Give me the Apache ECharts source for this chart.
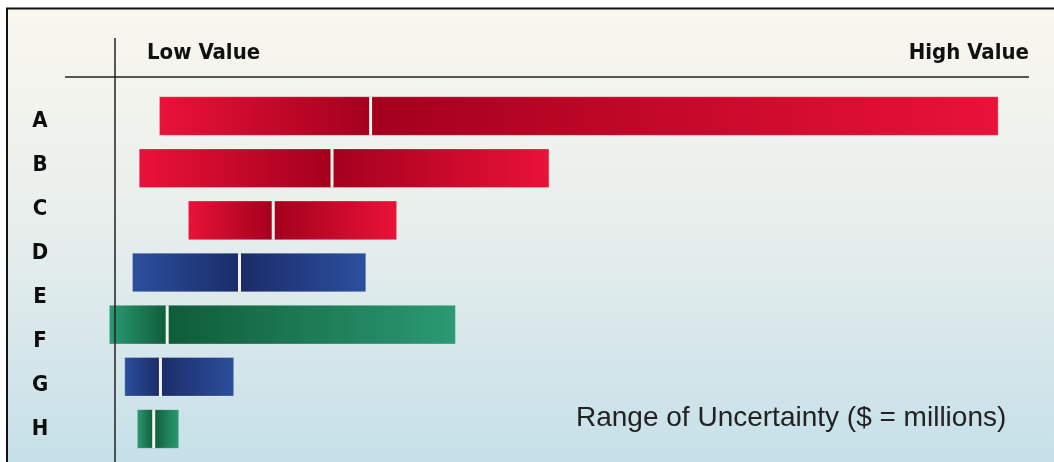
<!DOCTYPE html>
<html>
<head>
<meta charset="utf-8">
<script src="https://cdn.jsdelivr.net/npm/echarts@6/dist/echarts.min.js"></script>
<style>
  html, body { margin: 0; padding: 0; background: #ffffff; }
  #chart { width: 1054px; height: 462px; }
</style>
</head>
<body>
<div id="chart"></div>
<script>
// ---- data ----
const rowLabels = ['A', 'B', 'C', 'D', 'E', 'F', 'G', 'H'];
const barNames = ['A', 'B', 'C', 'D', 'F', 'G', 'H'];
const lowValues  = [4.8, 2.7, 7.8, 2.0, -0.4, 1.2, 2.5];
const midValues  = [26.7, 22.7, 16.6, 13.1, 5.6, 4.9, 4.2];
const highValues = [91.8, 45.2, 29.4, 26.2, 35.5, 12.5, 6.8];
const barGroups  = ['red', 'red', 'red', 'blue', 'green', 'blue', 'green'];
const headerLabels = ['Low Value', 'High Value'];
const noteText = 'Range of Uncertainty ($ = millions)';

// ---- styles ----
const palette = {
  red:   { bright: '#ea1238', dark: '#a3001d' },
  blue:  { bright: '#2c4f9e', dark: '#1a2c68' },
  green: { bright: '#2b9a72', dark: '#0f5c39' }
};
const boldFont = "'DejaVu Sans Condensed', 'Liberation Sans Narrow', 'DejaVu Sans', sans-serif";
const plainFont = "'Liberation Sans', Arial, Helvetica, sans-serif";

const rows = barNames.map((n, i) => [i, lowValues[i], midValues[i], highValues[i]]);

function grad(c1, c2) {
  return new echarts.graphic.LinearGradient(0, 0, 1, 0, [
    { offset: 0, color: c1 }, { offset: 1, color: c2 }
  ]);
}

const chart = echarts.init(document.getElementById('chart'), null, { renderer: 'canvas' });

chart.setOption({
  animation: false,
  backgroundColor: '#ffffff',
  grid: [
    { left: 65, right: 25, top: 90, height: 365 },
    { left: 60, width: 10, top: 99.3, height: 352.2 }
  ],
  xAxis: [
    { gridIndex: 0, type: 'value', min: -5, max: 95, show: false },
    { gridIndex: 1, type: 'value', min: 0, max: 1, show: false }
  ],
  yAxis: [
    { gridIndex: 0, type: 'category', data: barNames, inverse: true, show: false },
    {
      gridIndex: 1, type: 'category', data: rowLabels, inverse: true,
      axisLine: { show: false }, axisTick: { show: false }, splitLine: { show: false },
      axisLabel: {
        align: 'center', margin: 20, color: '#0d0d0d',
        fontFamily: boldFont, fontWeight: 'bold', fontSize: 22
      }
    }
  ],
  title: [
    {
      text: headerLabels[0], left: 147, top: 42, padding: 0,
      textStyle: { fontFamily: boldFont, fontWeight: 'bold', fontSize: 22, color: '#111111' }
    },
    {
      text: headerLabels[1], right: 25, top: 42, padding: 0,
      textStyle: { fontFamily: boldFont, fontWeight: 'bold', fontSize: 22, color: '#111111' }
    },
    {
      text: noteText, left: 576, top: 404, padding: 0,
      textStyle: { fontFamily: plainFont, fontWeight: 'normal', fontSize: 28, color: '#222222' }
    }
  ],
  graphic: [
    {
      type: 'rect', z: -10, silent: true,
      shape: { x: 7, y: 8, width: 1047, height: 454 },
      style: {
        fill: new echarts.graphic.LinearGradient(0, 0, 0, 1, [
          { offset: 0, color: '#f9f7ee' },
          { offset: 0.45, color: '#e9efec' },
          { offset: 1, color: '#c6e0e9' }
        ])
      }
    },
    { type: 'line', z: 100, silent: true, shape: { x1: 6, y1: 8.5, x2: 1054, y2: 8.5 }, style: { stroke: '#111', lineWidth: 2 } },
    { type: 'line', z: 100, silent: true, shape: { x1: 7, y1: 8, x2: 7, y2: 462 }, style: { stroke: '#111', lineWidth: 2 } },
    { type: 'line', z: 100, silent: true, shape: { x1: 65, y1: 77, x2: 1029, y2: 77 }, style: { stroke: '#222', lineWidth: 1.5 } },
    { type: 'line', z: 100, silent: true, shape: { x1: 115, y1: 38, x2: 115, y2: 462 }, style: { stroke: '#222', lineWidth: 1.5 } }
  ],
  series: [
    {
      type: 'custom',
      xAxisIndex: 0, yAxisIndex: 0,
      data: rows,
      encode: { x: [1, 2, 3], y: 0 },
      renderItem: function (params, api) {
        const idx = api.value(0);
        const pLow = api.coord([api.value(1), idx]);
        const pMid = api.coord([api.value(2), idx]);
        const pHigh = api.coord([api.value(3), idx]);
        const h = api.size([0, 1])[1] * 0.74;
        const y = pLow[1] - h / 2;
        const col = palette[barGroups[params.dataIndex]];
        const edge = 'rgba(255,255,255,0.25)';
        return {
          type: 'group',
          children: [
            {
              type: 'rect',
              shape: { x: pLow[0], y: y, width: pMid[0] - pLow[0], height: h },
              style: { fill: grad(col.bright, col.dark), stroke: edge, lineWidth: 1 }
            },
            {
              type: 'rect',
              shape: { x: pMid[0], y: y, width: pHigh[0] - pMid[0], height: h },
              style: { fill: grad(col.dark, col.bright), stroke: edge, lineWidth: 1 }
            },
            {
              type: 'line',
              shape: { x1: pMid[0], y1: y, x2: pMid[0], y2: y + h },
              style: { stroke: '#f4f4ee', lineWidth: 3 }
            }
          ]
        };
      }
    }
  ]
});
</script>
</body>
</html>
